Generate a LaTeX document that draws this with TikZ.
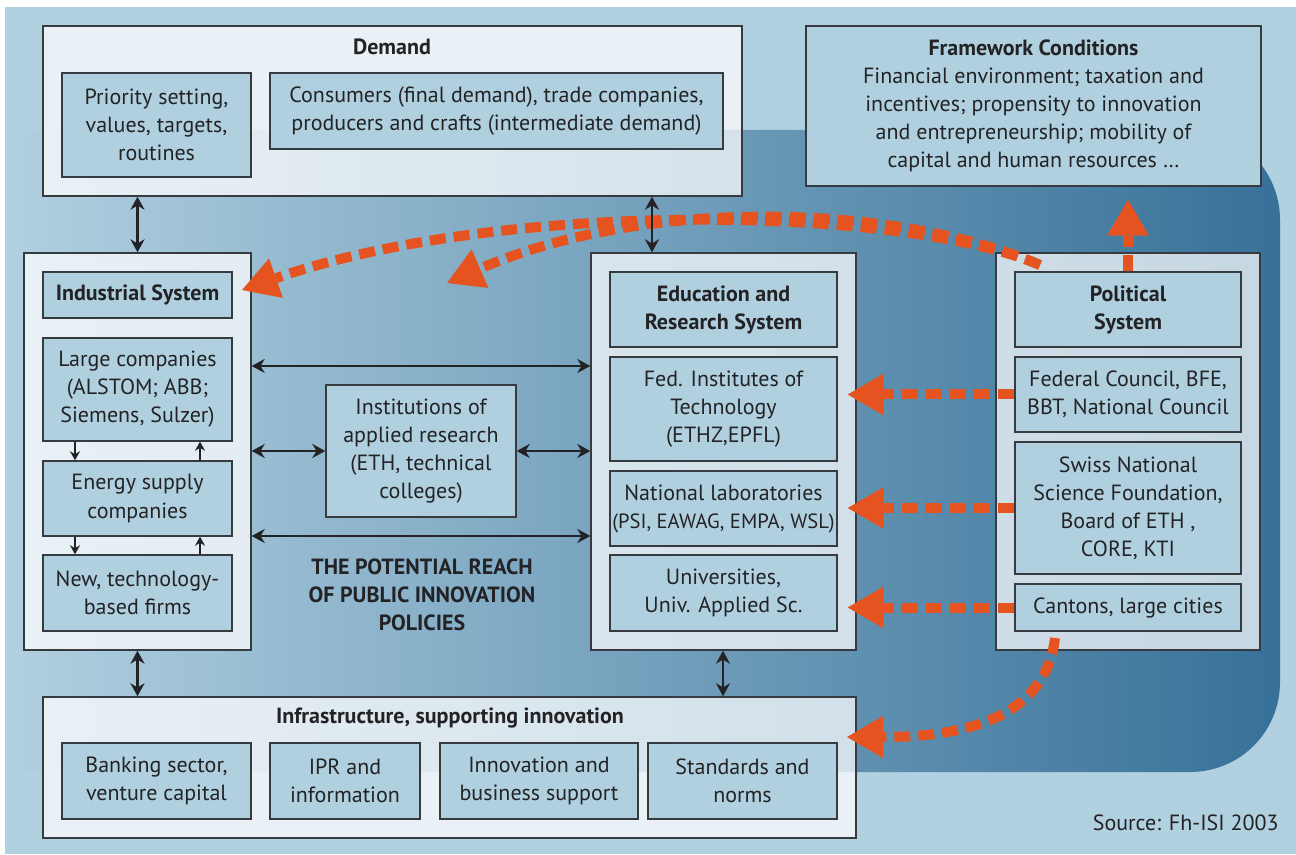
\documentclass[tikz,border=0pt]{standalone}
\usepackage{fontspec}
\setmainfont{PT Sans}
\usetikzlibrary{arrows.meta,calc}
\definecolor{bgblue}{RGB}{177,208,224}
\definecolor{boxblue}{RGB}{176,208,224}
\definecolor{darkblue}{RGB}{55,113,153}
\definecolor{bord}{RGB}{55,58,62}
\definecolor{txt}{RGB}{35,35,38}
\definecolor{orng}{RGB}{229,84,32}
\begin{document}
\begin{tikzpicture}[x=0.5pt,y=-0.5pt,
  rect/.style n args={4}{minimum width={(#3-#1)*0.5pt}, minimum height={(#4-#2)*0.5pt},
     at={({(#1+#3)/2},{(#2+#4)/2})}},
  outerbox/.style={draw=bord, line width=0.7pt, fill=white, fill opacity=0.72, inner sep=0pt},
  innerbox/.style={draw=bord, line width=0.7pt, fill=boxblue, inner sep=0pt, align=center,
     text=txt, font=\fontsize{11}{14}\selectfont},
  boldbox/.style={innerbox, font=\fontsize{11}{14}\selectfont\bfseries},
  ttl/.style={text=txt, font=\fontsize{11}{14}\selectfont\bfseries, align=center, inner sep=0pt},
  blk/.style={draw=txt, line width=1.1pt, {Stealth[length=6.5pt,width=7pt]}-{Stealth[length=6.5pt,width=7pt]}},
  sm/.style={draw=txt, line width=0.75pt, -{Stealth[length=4.5pt,width=5pt]}},
  oarr/.style={draw=orng, line width=5pt, dash pattern=on 8pt off 4pt,
     -{Triangle[length=18pt,width=21pt,line width=0pt]}}
]
\fill[white] (0,0) rectangle (1296,855);
\useasboundingbox (0,0) rectangle (1296,855);
\fill[bgblue] (5,7) rectangle (1296,854);
% potential reach region
\shade[left color=bgblue, right color=darkblue]
  (5,130) -- (1190,130) .. controls (1240,130) and (1280,170) .. (1280,220)
  -- (1280,682) .. controls (1280,732) and (1240,772) .. (1190,772) -- (5,772) -- cycle;

% Demand
\node[outerbox, rect={43}{26}{742}{196}] (demand) {};
\node[ttl] (demandT) at (392,47) {Demand};
\node[innerbox, rect={62}{73}{251}{177}] (prio) {Priority setting,\\values, targets,\\routines};
\node[innerbox, rect={270}{73}{723}{149}] (cons) {Consumers (final demand), trade companies,\\producers and crafts (intermediate demand)};

% Framework
\node[innerbox, rect={806}{26}{1261}{186}] (frame) {\textbf{Framework Conditions}\\Financial environment; taxation and\\incentives; propensity to innovation\\and entrepreneurship; mobility of\\capital and human resources \dots};

% Industrial
\node[outerbox, rect={24}{253}{251}{650}] (ind) {};
\node[boldbox, rect={43}{272}{232}{318}] (indsys) {Industrial System};
\node[innerbox, rect={43}{338}{232}{441}] (large) {Large companies\\(ALSTOM; ABB;\\Siemens, Sulzer)};
\node[innerbox, rect={43}{461}{232}{536}] (energy) {Energy supply\\companies};
\node[innerbox, rect={43}{555}{232}{631}] (newf) {New, technology-\\based firms};

% Institutions
\node[innerbox, rect={326}{385}{516}{517}] (inst) {Institutions of\\applied research\\(ETH, technical\\colleges)};

% Education
\node[outerbox, rect={591}{253}{856}{650}] (edu) {};
\node[boldbox, rect={610}{272}{837}{347}] (edusys) {Education and\\Research System};
\node[innerbox, rect={610}{357}{837}{461}] (fed) {Fed. Institutes of\\Technology\\(ETHZ,EPFL)};
\node[innerbox, rect={610}{471}{837}{546}] (natlab) {National laboratories\\{\fontsize{10.3}{14}\selectfont (PSI, EAWAG, EMPA, WSL)}};
\node[innerbox, rect={610}{555}{837}{631}] (univ) {Universities,\\Univ. Applied Sc.};

% Political
\node[outerbox, rect={996}{253}{1260}{650}] (pol) {};
\node[boldbox, rect={1015}{272}{1241}{347}] (polsys) {Political\\System};
\node[innerbox, rect={1015}{357}{1241}{432}] (fedc) {Federal Council, BFE,\\BBT, National Council};
\node[innerbox, rect={1015}{442}{1241}{574}] (snsf) {Swiss National\\Science Foundation,\\Board of ETH ,\\CORE, KTI};
\node[innerbox, rect={1015}{584}{1241}{631}] (cant) {Cantons, large cities};

% Infrastructure
\node[outerbox, rect={43}{697}{856}{838}] (infra) {};
\node[ttl] (infraT) at (450,718) {Infrastructure, supporting innovation};
\node[innerbox, rect={62}{743}{251}{819}] (bank) {Banking sector,\\venture capital};
\node[innerbox, rect={270}{743}{420}{819}] (ipr) {IPR and\\information};
\node[innerbox, rect={440}{743}{638}{819}] (innov) {Innovation and\\business support};
\node[innerbox, rect={648}{743}{837}{819}] (stand) {Standards and\\norms};

% label
\node[ttl] (reach) at (422,595) {THE POTENTIAL REACH\\OF PUBLIC INNOVATION\\POLICIES};
\node[anchor=east, text=txt, font=\fontsize{11}{14}\selectfont, inner sep=0pt] (src) at (1279,823) {Source: Fh-ISI 2003};

% orange arrows
\coordinate (pstart) at (1040,265);
\coordinate (tipA) at (242,290);
\coordinate (tipB) at (447,283);
\coordinate (cstart) at (1055,638);
\coordinate (tipC) at (847,737);
\draw[oarr] (pstart) .. controls (900,205) and (500,200) .. (tipA);
\draw[oarr] (pstart) .. controls (900,205) and (650,195) .. (tipB);
\draw[oarr] (cstart) .. controls (1045,720) and (960,737) .. (tipC);
\draw[oarr, shorten >=6.5pt] (polsys.north) -- (polsys.north |- frame.south);
\draw[oarr, shorten >=5pt] (fedc.west) -- (fed.east |- fedc.west);
\draw[oarr, shorten >=5pt] (snsf.west) -- (natlab.east |- snsf.west);
\draw[oarr, shorten >=5pt] (cant.west) -- (univ.east |- cant.west);

% black arrows
\draw[blk] (ind.north) -- (ind.north |- demand.south);
\draw[blk] (edu.north -| 652,0) -- (demand.south -| 652,0);
\draw[blk] (ind.south) -- (ind.south |- infra.north);
\draw[blk] (edu.south -| 723,0) -- (infra.north -| 723,0);
\draw[blk] (ind.east |- 0,366) -- (edu.west |- 0,366);
\draw[blk] (ind.east |- 0,451) -- (inst.west |- 0,451);
\draw[blk] (inst.east |- 0,451) -- (edu.west |- 0,451);
\draw[blk] (ind.east |- 0,536) -- (edu.west |- 0,536);
\draw[sm] (large.south -| 75,0) -- (energy.north -| 75,0);
\draw[sm] (energy.north -| 200,0) -- (large.south -| 200,0);
\draw[sm] (energy.south -| 75,0) -- (newf.north -| 75,0);
\draw[sm] (newf.north -| 200,0) -- (energy.south -| 200,0);
\end{tikzpicture}
\end{document}
